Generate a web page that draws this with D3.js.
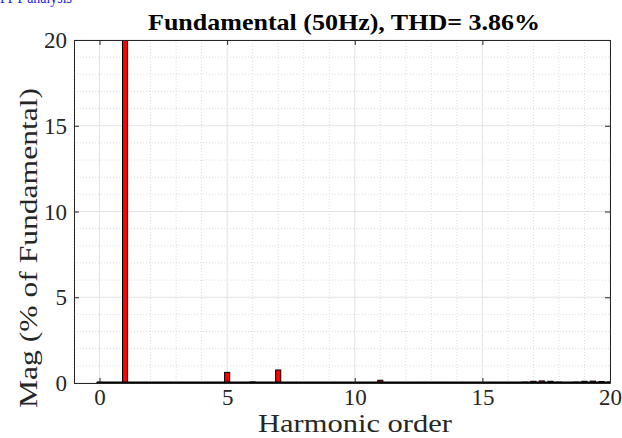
<!DOCTYPE html>
<html>
<head>
<meta charset="utf-8">
<script src="https://cdn.jsdelivr.net/npm/d3@7"></script>
<style>
  html, body { margin: 0; padding: 0; background: #fff; }
  svg { display: block; }
  text { font-family: "Liberation Serif", "Times New Roman", serif; }
</style>
</head>
<body>
<svg id="chart" width="622" height="438"></svg>
<script>
// Harmonic spectrum (magnitude in % of fundamental)
const harmonicOrders = [0, 1, 2, 3, 4, 5, 6, 7, 8, 9, 10, 11, 12, 12.67, 13, 13.33, 14, 15, 15.33, 16, 16.67, 17, 17.33, 17.67, 18, 18.67, 19, 19.33, 19.67, 20];
const magnitudes =     [0.04, 100, 0.02, 0.02, 0.01, 0.62, 0.06, 0.76, 0.02, 0.01, 0.01, 0.16, 0.02, 0.03, 0.03, 0.03, 0.01, 0.02, 0.03, 0.02, 0.05, 0.10, 0.12, 0.10, 0.05, 0.05, 0.10, 0.11, 0.09, 0.06];
const xTicks = [0, 5, 10, 15, 20];
const yTicks = [0, 5, 10, 15, 20];
const titleText = "Fundamental (50Hz), THD= 3.86%";
const xLabel = "Harmonic order";
const yLabel = "Mag (% of Fundamental)";

const svg = d3.select("#chart");
const m = { left: 74, right: 610, top: 40, bottom: 383 };

const x = d3.scaleLinear().domain([-1, 20]).range([m.left, m.right]);
const y = d3.scaleLinear().domain([0, 20]).range([m.bottom, m.top]);
const barW = x(0.2) - x(0);

// Window caption
svg.append("text").attr("x", 0).attr("y", 3).attr("fill", "#1a1adb")
  .attr("textLength", 72).attr("lengthAdjust", "spacingAndGlyphs")
  .style("font-size", "17px").text("FFT analysis");

svg.append("clipPath").attr("id", "plotClip")
  .append("rect").attr("x", m.left).attr("y", m.top)
  .attr("width", m.right - m.left).attr("height", m.bottom - m.top);

const grid = svg.append("g");
// Minor grid (dotted)
grid.selectAll(".mx").data(d3.range(-1, 21).filter(v => v % 5 !== 0))
  .join("line")
  .attr("x1", d => x(d)).attr("x2", d => x(d))
  .attr("y1", m.top).attr("y2", m.bottom)
  .attr("stroke", "#dcdcdc").attr("stroke-width", 1).attr("stroke-dasharray", "1,2");
grid.selectAll(".my").data(d3.range(1, 20).filter(v => v % 5 !== 0))
  .join("line")
  .attr("x1", m.left).attr("x2", m.right)
  .attr("y1", d => y(d)).attr("y2", d => y(d))
  .attr("stroke", "#dcdcdc").attr("stroke-width", 1).attr("stroke-dasharray", "1,2");
// Major grid
grid.selectAll(".gx").data(xTicks).join("line")
  .attr("x1", d => x(d)).attr("x2", d => x(d))
  .attr("y1", m.top).attr("y2", m.bottom)
  .attr("stroke", "#e3e3e3").attr("stroke-width", 1);
grid.selectAll(".gy").data(yTicks).join("line")
  .attr("x1", m.left).attr("x2", m.right)
  .attr("y1", d => y(d)).attr("y2", d => y(d))
  .attr("stroke", "#e3e3e3").attr("stroke-width", 1);

// Bars
const bars = svg.append("g").attr("clip-path", "url(#plotClip)");
bars.selectAll("rect").data(harmonicOrders.map((h, i) => ({ h, v: magnitudes[i] })))
  .join("rect")
  .attr("x", d => x(d.h) - barW / 2)
  .attr("width", barW)
  .attr("y", d => y(Math.min(d.v, 25)))
  .attr("height", d => y(0) - y(Math.min(d.v, 25)))
  .attr("fill", "#ff0000")
  .attr("stroke", "#000").attr("stroke-width", 1);

// Baseline
bars.append("line")
  .attr("x1", x(-0.1)).attr("x2", m.right)
  .attr("y1", y(0) - 0.5).attr("y2", y(0) - 0.5)
  .attr("stroke", "#000").attr("stroke-width", 2);

// Axes (ticks pointing inward, boxed)
const tickCol = "#262626";
const axB = svg.append("g").attr("transform", `translate(0,${m.bottom})`)
  .call(d3.axisBottom(x).tickValues(xTicks).tickSizeInner(-5).tickSizeOuter(0).tickPadding(6));
const axT = svg.append("g").attr("transform", `translate(0,${m.top})`)
  .call(d3.axisTop(x).tickValues(xTicks).tickSizeInner(-5).tickSizeOuter(0).tickFormat(""));
const axL = svg.append("g").attr("transform", `translate(${m.left},0)`)
  .call(d3.axisLeft(y).tickValues(yTicks).tickSizeInner(-5).tickSizeOuter(0).tickPadding(7));
const axR = svg.append("g").attr("transform", `translate(${m.right},0)`)
  .call(d3.axisRight(y).tickValues(yTicks).tickSizeInner(-5).tickSizeOuter(0).tickFormat(""));
[axB, axT, axL, axR].forEach(a => {
  a.select(".domain").attr("stroke", tickCol);
  a.selectAll(".tick line").attr("stroke", tickCol);
  a.selectAll(".tick text").attr("fill", tickCol)
    .style("font-size", "23px").style("font-family", "'Liberation Serif', serif");
});
axL.selectAll(".tick text").attr("dy", "0.33em");

// Titles
svg.append("text").attr("x", 148).attr("y", 30)
  .attr("textLength", 392).attr("lengthAdjust", "spacingAndGlyphs")
  .attr("fill", "#000")
  .style("font-size", "24px").style("font-weight", "bold").text(titleText);
svg.append("text").attr("x", 258).attr("y", 432)
  .attr("textLength", 194).attr("lengthAdjust", "spacingAndGlyphs")
  .attr("fill", tickCol)
  .style("font-size", "26px").text(xLabel);
svg.append("text")
  .attr("transform", "translate(37,408) rotate(-90)")
  .attr("textLength", 320).attr("lengthAdjust", "spacingAndGlyphs")
  .attr("fill", tickCol)
  .style("font-size", "26px").text(yLabel);
</script>
</body>
</html>
